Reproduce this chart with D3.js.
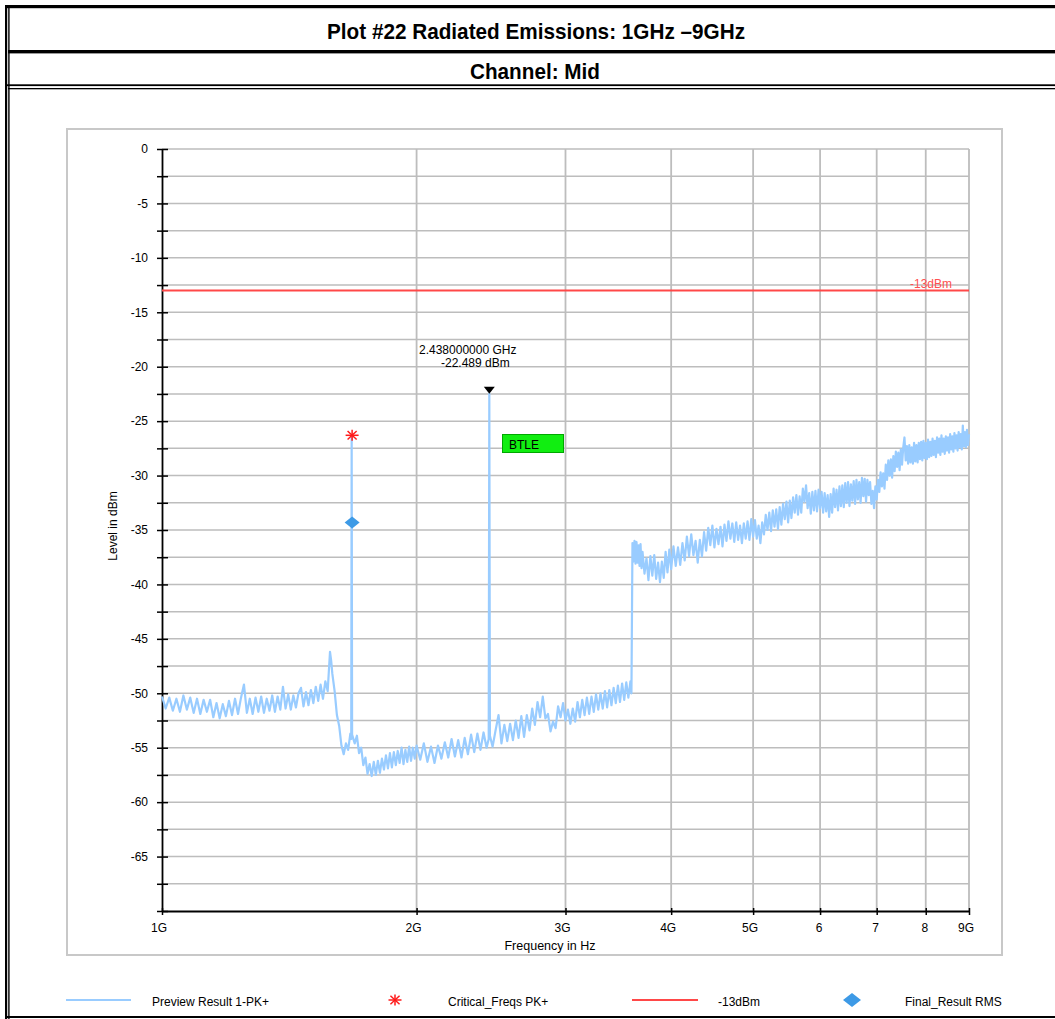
<!DOCTYPE html>
<html><head><meta charset="utf-8">
<script src="https://cdn.jsdelivr.net/npm/d3@7"></script>
<style>
body{margin:0;background:#fff}
svg{display:block}
text{font-family:"Liberation Sans",Arial,sans-serif}
</style>
</head><body>
<svg id="c" width="1055" height="1019"></svg>
<script>
// ---------------- data ----------------
const titleText = "Plot #22 Radiated Emissions: 1GHz \u20139GHz";
const subtitleText = "Channel: Mid";
const xTickValues = [1000, 2000, 3000, 4000, 5000, 6000, 7000, 8000, 9000]; // MHz
const xTickLabels = ["1G", "2G", "3G", "4G", "5G", "6", "7", "8", "9G"];
const yTickValues = [0, -2.5, -5, -7.5, -10, -12.5, -15, -17.5, -20, -22.5, -25, -27.5, -30, -32.5, -35, -37.5, -40, -42.5, -45, -47.5, -50, -52.5, -55, -57.5, -60, -62.5, -65, -67.5, -70];
const yTickLabels = ["0", "", "-5", "", "-10", "", "-15", "", "-20", "", "-25", "", "-30", "", "-35", "", "-40", "", "-45", "", "-50", "", "-55", "", "-60", "", "-65", "", ""];
const limitLevel = -13;
const limitLabel = "-13dBm";
const markerPoint = { freqMHz: 2438, level: -22.489, line1: "2.438000000 GHz", line2: "-22.489 dBm" };
const bandLabel = "BTLE";
const criticalFreqs = [[1678, -26.3]];
const finalResults = [[1678, -34.3]];
const legendLabels = ["Preview Result 1-PK+", "Critical_Freqs PK+", "-13dBm", "Final_Result RMS"];
// Preview trace: [frequency MHz, level dBm]
const trace = [
[1000,-50.3],[1010,-51.4],[1020,-50.4],[1030,-51.6],[1040,-50.5],[1050,-51.7],[1060,-50.2],[1070,-51.5],[1080,-50.4],[1090,-51.8],
[1100,-50.5],[1110,-51.9],[1120,-50.6],[1130,-51.7],[1140,-50.6],[1150,-52.2],[1160,-50.9],[1170,-52.3],[1180,-51.0],[1190,-52.1],
[1200,-50.7],[1210,-52.0],[1220,-50.5],[1230,-51.9],[1240,-50.4],[1250,-49.2],[1260,-51.8],[1270,-50.5],[1280,-51.9],[1290,-50.4],
[1300,-51.7],[1310,-50.3],[1320,-51.8],[1330,-50.5],[1340,-51.6],[1350,-50.2],[1360,-51.7],[1370,-50.3],[1380,-51.5],[1390,-49.4],
[1400,-51.4],[1410,-50.1],[1420,-51.5],[1430,-50.2],[1440,-51.3],[1450,-50.0],[1460,-49.5],[1470,-51.2],[1480,-49.9],[1490,-51.1],
[1500,-49.7],[1510,-50.9],[1520,-49.4],[1530,-50.7],[1540,-49.2],[1550,-50.5],[1560,-48.9],[1570,-49.8],[1575,-48.0],[1580,-46.2],
[1585,-47.0],[1590,-48.2],[1600,-49.8],[1610,-52.0],[1620,-53.0],[1630,-54.8],[1640,-55.6],[1650,-54.6],[1660,-55.2],[1670,-53.7],
[1674,-54.2],[1676,-26.5],[1678,-53.8],[1690,-54.6],[1700,-53.9],[1710,-55.5],[1720,-55.0],[1730,-56.6],[1740,-55.9],[1750,-57.4],
[1760,-56.5],[1770,-57.6],[1780,-56.3],[1790,-57.5],[1800,-56.2],[1810,-57.3],[1820,-56.0],[1830,-57.0],[1840,-55.7],[1850,-56.9],
[1860,-55.5],[1870,-56.8],[1880,-55.4],[1890,-56.6],[1900,-55.3],[1910,-56.4],[1920,-55.0],[1930,-56.5],[1940,-55.2],[1950,-56.3],
[1960,-54.9],[1970,-56.2],[1980,-55.0],[1990,-56.0],[2000,-54.8],[2020,-56.1],[2040,-54.6],[2060,-56.3],[2080,-54.9],[2100,-56.4],
[2120,-54.8],[2140,-56.0],[2160,-54.5],[2180,-55.9],[2200,-54.2],[2220,-55.8],[2240,-54.3],[2260,-55.9],[2280,-54.1],[2300,-55.6],
[2320,-53.8],[2340,-55.4],[2360,-53.7],[2380,-55.2],[2400,-53.6],[2420,-55.0],[2434,-54.2],[2438,-22.5],[2442,-53.9],[2460,-54.9],
[2480,-53.4],[2500,-52.0],[2520,-54.6],[2540,-52.9],[2560,-54.4],[2580,-52.8],[2600,-54.3],[2620,-52.5],[2640,-54.1],[2660,-52.1],
[2680,-54.0],[2700,-52.0],[2720,-53.4],[2740,-51.4],[2760,-52.9],[2780,-50.8],[2800,-52.2],[2820,-50.3],[2840,-52.3],[2860,-51.9],
[2880,-53.5],[2900,-52.6],[2920,-53.2],[2940,-51.2],[2960,-52.2],[2980,-50.9],[3000,-52.5],[3020,-51.5],[3040,-52.8],[3060,-51.4],
[3080,-52.6],[3100,-50.8],[3120,-52.2],[3140,-50.6],[3160,-52.0],[3180,-50.4],[3200,-51.9],[3220,-50.3],[3240,-51.7],[3260,-50.1],
[3280,-51.5],[3300,-50.0],[3320,-51.4],[3340,-49.8],[3360,-51.3],[3380,-49.7],[3400,-51.1],[3420,-49.5],[3440,-50.9],[3460,-49.3],
[3480,-50.8],[3500,-49.1],[3520,-50.6],[3540,-49.0],[3560,-50.4],[3580,-48.9],[3590,-50.0],[3600,-36.2],[3610,-37.9],[3620,-36.0],
[3630,-38.1],[3640,-36.1],[3650,-38.0],[3660,-36.4],[3670,-38.3],[3680,-36.3],[3690,-38.5],[3700,-37.0],[3720,-39.0],[3740,-37.6],
[3760,-39.6],[3780,-37.4],[3800,-39.2],[3820,-37.3],[3840,-39.5],[3860,-38.0],[3880,-39.8],[3900,-37.9],[3920,-39.4],[3940,-37.0],
[3960,-38.9],[3980,-36.8],[4000,-38.6],[4025,-36.5],[4050,-38.3],[4075,-36.6],[4100,-38.2],[4125,-36.2],[4150,-37.8],[4175,-35.6],
[4200,-37.4],[4225,-35.4],[4250,-37.3],[4275,-36.0],[4300,-38.0],[4325,-35.9],[4350,-37.4],[4375,-35.2],[4400,-36.9],[4425,-34.8],
[4450,-36.4],[4475,-34.6],[4500,-36.6],[4525,-34.9],[4550,-36.3],[4575,-34.7],[4600,-36.5],[4625,-34.5],[4650,-36.0],[4675,-34.2],
[4700,-35.8],[4725,-34.4],[4750,-36.1],[4775,-34.3],[4800,-35.9],[4825,-34.6],[4850,-36.2],[4875,-34.4],[4900,-35.8],[4925,-34.2],
[4950,-35.9],[4975,-34.0],[5000,-35.6],[5025,-34.1],[5050,-35.8],[5075,-34.6],[5100,-36.2],[5125,-34.3],[5150,-35.4],[5175,-33.6],
[5200,-35.0],[5225,-33.4],[5250,-35.1],[5275,-33.2],[5300,-34.7],[5325,-33.1],[5350,-34.9],[5375,-32.9],[5400,-34.5],[5425,-32.6],
[5450,-34.0],[5475,-32.4],[5500,-34.3],[5525,-32.3],[5550,-33.9],[5575,-32.0],[5600,-33.4],[5625,-31.8],[5650,-33.6],[5675,-31.9],
[5700,-33.4],[5725,-31.2],[5750,-32.4],[5775,-30.9],[5800,-33.0],[5825,-31.6],[5850,-33.5],[5875,-31.5],[5900,-33.2],[5925,-31.4],
[5950,-33.3],[5975,-31.3],[6000,-33.0],[6025,-31.5],[6050,-33.4],[6075,-31.6],[6100,-33.3],[6125,-31.8],[6150,-33.8],[6175,-31.7],
[6200,-33.4],[6225,-31.2],[6250,-32.9],[6275,-31.3],[6300,-33.2],[6325,-31.0],[6350,-32.8],[6375,-30.9],[6400,-32.9],[6425,-30.7],
[6450,-32.5],[6475,-30.6],[6500,-32.8],[6525,-30.8],[6550,-32.3],[6575,-30.5],[6600,-32.6],[6625,-30.4],[6650,-32.2],[6675,-30.6],
[6700,-32.5],[6725,-30.2],[6750,-31.9],[6775,-30.3],[6800,-32.4],[6825,-30.4],[6850,-31.8],[6875,-30.6],[6900,-32.6],[6925,-31.4],
[6950,-33.0],[6975,-31.0],[7000,-32.2],[7025,-30.4],[7050,-31.5],[7075,-29.7],[7100,-31.0],[7125,-29.8],[7150,-31.2],[7175,-29.0],
[7200,-30.4],[7225,-28.6],[7250,-30.0],[7275,-28.5],[7300,-30.2],[7325,-28.2],[7350,-29.6],[7375,-27.8],[7400,-29.2],[7425,-27.9],
[7450,-29.5],[7475,-27.6],[7500,-29.0],[7525,-27.4],[7550,-26.5],[7575,-28.6],[7600,-27.3],[7625,-28.9],[7650,-27.2],[7675,-28.8],
[7700,-27.4],[7725,-28.9],[7750,-27.0],[7775,-28.7],[7800,-27.2],[7825,-28.8],[7850,-27.0],[7875,-28.5],[7900,-26.9],[7925,-28.6],
[7950,-26.8],[7975,-28.4],[8000,-27.0],[8025,-28.5],[8050,-26.7],[8075,-28.3],[8100,-26.9],[8125,-28.2],[8150,-26.6],[8175,-28.1],
[8200,-26.8],[8225,-28.3],[8250,-26.5],[8275,-27.9],[8300,-26.6],[8325,-28.1],[8350,-26.3],[8375,-27.8],[8400,-26.6],[8425,-28.0],
[8450,-26.4],[8475,-27.7],[8500,-26.5],[8525,-27.9],[8550,-26.2],[8575,-27.6],[8600,-26.4],[8625,-27.8],[8650,-26.1],[8675,-27.5],
[8700,-26.3],[8725,-27.7],[8750,-26.0],[8775,-27.4],[8800,-26.2],[8825,-27.6],[8850,-25.4],[8875,-27.3],[8900,-26.0],[8925,-27.4],
[8950,-25.8],[8975,-27.2],[9000,-26.2]
];

// ---------------- drawing ----------------
const svg = d3.select("#c");
const traceColor = "#99ccff";
const gridColor = "#bdbdbd";
const narrow = "'Liberation Sans Narrow','Arial Narrow','Liberation Sans',sans-serif";

// page frame
const frame = svg.append("g").attr("fill", "#000");
frame.append("rect").attr("x", 5).attr("y", 5).attr("width", 2.2).attr("height", 1014);
frame.append("rect").attr("x", 8.2).attr("y", 8).attr("width", 1.4).attr("height", 1011);
frame.append("rect").attr("x", 5).attr("y", 5).attr("width", 1050).attr("height", 3.2);
frame.append("rect").attr("x", 8).attr("y", 50).attr("width", 1047).attr("height", 3.4);
frame.append("rect").attr("x", 7).attr("y", 84.3).attr("width", 1048).attr("height", 1.8);
frame.append("rect").attr("x", 8).attr("y", 88).attr("width", 1047).attr("height", 1.3);
frame.append("rect").attr("x", 5).attr("y", 1016).attr("width", 1050).attr("height", 2);

svg.append("text").attr("x", 327).attr("y", 38.5)
  .style("font-family", narrow).attr("font-weight", "bold").attr("font-size", 22.5)
  .attr("textLength", 418).attr("lengthAdjust", "spacingAndGlyphs").text(titleText);
svg.append("text").attr("x", 470).attr("y", 78.5)
  .style("font-family", narrow).attr("font-weight", "bold").attr("font-size", 22.5)
  .attr("textLength", 130).attr("lengthAdjust", "spacingAndGlyphs").text(subtitleText);

// plot box
svg.append("rect").attr("x", 67).attr("y", 129).attr("width", 935).attr("height", 826)
  .attr("fill", "none").attr("stroke", "#c8c8c8").attr("stroke-width", 2);

const x = d3.scaleLog().domain([1000, 9000]).range([162, 969]);
const y = d3.scaleLinear().domain([-70, 0]).range([911, 149]);

// grid
const grid = svg.append("g");
grid.selectAll("line.h").data(yTickValues.filter(v => v > -70)).join("line")
  .attr("x1", x(1000)).attr("x2", x(9000)).attr("y1", d => y(d)).attr("y2", d => y(d))
  .attr("stroke", gridColor).attr("stroke-width", 1.5);
grid.selectAll("line.v").data(xTickValues.filter(v => v > 1000)).join("line")
  .attr("x1", d => x(d)).attr("x2", d => x(d)).attr("y1", y(0)).attr("y2", y(-70))
  .attr("stroke", gridColor).attr("stroke-width", 1.8);

// axes
const yAxis = d3.axisLeft(y).tickValues(yTickValues).tickFormat((d, i) => yTickLabels[i]).tickSizeOuter(0);
const gy = svg.append("g").attr("transform", `translate(${x(1000)},0)`).call(yAxis);
gy.select(".domain").attr("stroke", "#000").attr("stroke-width", 1.8);
gy.selectAll(".tick line").attr("x1", -5).attr("x2", 6).attr("stroke", "#000").attr("stroke-width", 1.5);
gy.selectAll(".tick text").attr("x", -14).attr("font-size", 12).attr("fill", "#000")
  .style("font-family", "'Liberation Sans',Arial,sans-serif");

const xAxis = d3.axisBottom(x).tickValues(xTickValues).tickFormat((d, i) => xTickLabels[i]).tickSizeOuter(0);
const gx = svg.append("g").attr("transform", `translate(0,${y(-70)})`).call(xAxis);
gx.select(".domain").attr("stroke", "#000").attr("stroke-width", 1.8);
gx.selectAll(".tick line").attr("y1", -3).attr("y2", 4).attr("stroke", "#000").attr("stroke-width", 1.5);
gx.selectAll(".tick text").attr("y", 12).attr("font-size", 12).attr("fill", "#000")
  .attr("dx", (d, i) => xTickLabels[i].includes("G") ? -3.5 : -1.5)
  .style("font-family", "'Liberation Sans',Arial,sans-serif");

svg.append("text").attr("transform", "translate(117,526) rotate(-90)").attr("text-anchor", "middle")
  .attr("font-size", 12).text("Level in dBm");
svg.append("text").attr("x", 550).attr("y", 950).attr("text-anchor", "middle")
  .attr("font-size", 12.5).text("Frequency in Hz");

// limit line
svg.append("line").attr("x1", x(1000)).attr("x2", x(9000)).attr("y1", y(limitLevel)).attr("y2", y(limitLevel))
  .attr("stroke", "#ff4848").attr("stroke-width", 1.8);
svg.append("text").attr("x", 952).attr("y", y(limitLevel) - 3).attr("text-anchor", "end")
  .attr("font-size", 12).attr("fill", "#ff5050").text(limitLabel);

// trace
const line = d3.line().x(d => x(d[0])).y(d => y(d[1]));
svg.append("path").datum(trace).attr("d", line).attr("fill", "none")
  .attr("stroke", traceColor).attr("stroke-width", 2.2).attr("stroke-linejoin", "round");

// marker
const mx = x(markerPoint.freqMHz), my = y(markerPoint.level);
svg.append("path").attr("d", `M${mx-5.5},${my-7}L${mx+5.5},${my-7}L${mx},${my}Z`).attr("fill", "#000");
svg.append("text").attr("x", 419).attr("y", 354).attr("font-size", 12).text(markerPoint.line1);
svg.append("text").attr("x", 441).attr("y", 367).attr("font-size", 12).text(markerPoint.line2);

// BTLE label
svg.append("rect").attr("x", 502.5).attr("y", 434.5).attr("width", 61).attr("height", 18)
  .attr("fill", "#11ee11").attr("stroke", "#00a800").attr("stroke-width", 1);
svg.append("text").attr("x", 509).attr("y", 448.5).attr("font-size", 12).text(bandLabel);

// critical freq star
function star(g, cx, cy, r) {
  const s = g.append("g").attr("stroke", "#ff1a1a").attr("stroke-width", 1.5);
  [[r,0],[0,r*0.85],[r*0.7,r*0.65],[r*0.7,-r*0.65]].forEach(([dx,dy]) =>
    s.append("line").attr("x1", cx-dx).attr("y1", cy-dy).attr("x2", cx+dx).attr("y2", cy+dy));
}
criticalFreqs.forEach(d => star(svg, x(d[0]), y(d[1]), 6.5));

// final result diamond
function diamond(g, cx, cy, w, h) {
  g.append("path").attr("d", `M${cx-w/2},${cy}L${cx},${cy-h/2}L${cx+w/2},${cy}L${cx},${cy+h/2}Z`)
    .attr("fill", "#3d9ae6");
}
finalResults.forEach(d => diamond(svg, x(d[0]), y(d[1]), 15, 12));

// legend
const ly = 1000;
svg.append("line").attr("x1", 66).attr("x2", 131).attr("y1", ly).attr("y2", ly).attr("stroke", traceColor).attr("stroke-width", 1.8);
svg.append("text").attr("x", 152).attr("y", ly + 5.5).attr("font-size", 12).text(legendLabels[0]);
star(svg, 395, ly, 6.5);
svg.append("text").attr("x", 448).attr("y", ly + 5.5).attr("font-size", 12).text(legendLabels[1]);
svg.append("line").attr("x1", 632).attr("x2", 698).attr("y1", ly).attr("y2", ly).attr("stroke", "#ff4848").attr("stroke-width", 1.8);
svg.append("text").attr("x", 718).attr("y", ly + 5.5).attr("font-size", 12).text(legendLabels[2]);
diamond(svg, 852, ly, 18, 14);
svg.append("text").attr("x", 905).attr("y", ly + 5.5).attr("font-size", 12).text(legendLabels[3]);
</script>
</body></html>
